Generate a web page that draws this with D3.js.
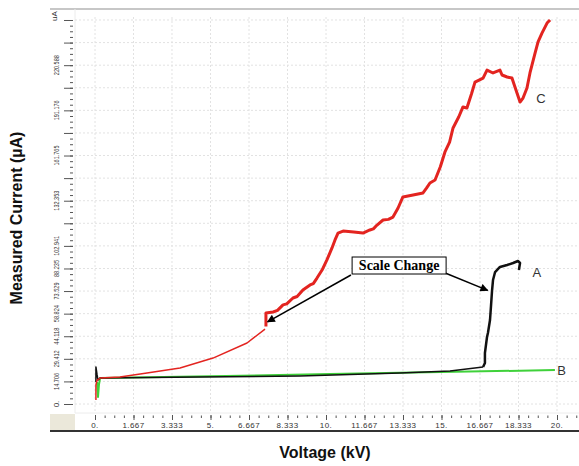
<!DOCTYPE html>
<html>
<head>
<meta charset="utf-8">
<script src="https://cdn.jsdelivr.net/npm/d3@7"></script>
<style>
  body { margin: 0; background: #fff; }
  svg { display: block; }
</style>
</head>
<body>
<script>
const canvasSizeX = 579;
const canvasSizeY = 466;

// tick labels as printed by the instrument software
const voltageTicks = [0, 1.667, 3.333, 5, 6.667, 8.333, 10, 11.667, 13.333, 15, 16.667, 18.333, 20];
const voltageLabels = ["0.", "1.667", "3.333", "5.", "6.667", "8.333", "10.", "11.667", "13.333", "15.", "16.667", "18.333", "20."];
const currentTicks = [0, 14.706, 29.412, 44.118, 58.824, 73.529, 88.235, 102.941, 132.353, 161.765, 191.176, 220.588];
const currentLabels = ["0.", "14.706", "29.412", "44.118", "58.824", "73.529", "88.235", "102.941", "132.353", "161.765", "191.176", "220.588"];
const currentStep = 14.706;
const currentMax = 250;

// [kV, uA]
// C before the scale change (thin) and after it (thick)
const seriesCLow = [
    [0.04, 2.6], [0.04, 12.4], [0.09, 15.6], [0.22, 16.9], [1.08, 17.6], [2.25, 20.2],
    [3.68, 23.4], [5.11, 29.9], [6.58, 39.7], [7.36, 48.8]
];
const seriesCHigh = [
    [7.40, 50.5], [7.40, 59.2], [7.71, 59.9], [7.90, 61.0], [8.14, 64.5], [8.30, 65.2], [8.57, 69.0],
    [8.75, 70.0], [9.00, 74.2], [9.31, 77.5], [9.45, 78.4], [9.61, 82.0], [9.83, 87.2], [10.04, 93.8],
    [10.26, 101.6], [10.39, 106.8], [10.52, 111.3], [10.74, 112.6], [11.20, 112.0], [11.60, 111.3],
    [11.90, 113.3], [12.05, 114.0], [12.21, 116.5], [12.47, 119.8], [12.70, 120.2], [12.90, 121.7],
    [13.12, 127.6], [13.33, 134.8], [13.77, 136.1], [14.20, 137.4], [14.35, 140.5], [14.50, 143.9],
    [14.72, 145.8], [14.95, 154.5], [15.15, 164.1], [15.35, 170.5], [15.50, 179.7], [15.75, 187.0],
    [15.93, 193.4], [16.10, 192.7], [16.30, 202.0], [16.45, 209.6], [16.80, 212.2], [16.97, 217.4],
    [17.23, 215.5], [17.53, 217.4], [17.62, 214.2], [17.84, 212.9], [18.05, 212.2], [18.18, 206.4],
    [18.40, 196.6], [18.53, 199.2], [18.70, 205.7], [18.83, 215.5], [19.05, 228.5], [19.18, 235.7],
    [19.35, 241.5], [19.57, 248.0], [19.70, 250.0]
];
// A before and after the scale change
const seriesALow = [
    [0.04, 14.3], [0.04, 24.1], [0.09, 18.9], [0.13, 15.6], [0.22, 16.9], [4.55, 17.6],
    [8.87, 18.2], [13.20, 20.2], [15.37, 21.5], [16.80, 24.1]
];
const seriesAHigh = [
    [16.80, 24.1], [16.88, 26.7], [16.88, 33.2], [16.97, 43.6], [17.01, 46.2], [17.10, 54.7],
    [17.14, 63.2], [17.19, 74.2], [17.23, 80.7], [17.32, 85.9], [17.53, 89.2], [17.84, 90.5],
    [18.10, 91.8], [18.31, 93.1], [18.40, 91.8], [18.35, 87.2]
];
const seriesB = [
    [0.09, 14.3], [0.13, 4.6], [0.17, 12.4], [0.22, 16.9], [5.0, 18.1], [10.17, 19.5],
    [15.0, 20.8], [19.91, 22.1]
];

// curve labels and the annotation, in data units
const curveLabels = [
    { text: "A", v: 19.13, i: 85.9 },
    { text: "B", v: 20.2, i: 22.1 },
    { text: "C", v: 19.3, i: 199 }
];
const noteText = "Scale Change";
const noteBox = { v: 11.13, i: 95.7 };
const noteArrows = [
    { from: [11.08, 84.0], to: [7.47, 53.5] },
    { from: [15.16, 85.3], to: [17.0, 74.0] }
];

let canvas = d3.select("body")
    .append("svg")
    .attr("width", canvasSizeX)
    .attr("height", canvasSizeY);

const x = d3.scaleLinear().domain([0, 20]).range([95, 557]);
const y = d3.scaleLinear().domain([0, currentMax]).range([404, 20]);

const plotLeft = 75;
const plotRight = canvasSizeX;
const plotTop = 9;
const plotBottom = 413;
const smallFont = "Liberation Sans, Arial, sans-serif";

const main = () => {
    drawFrame();
    drawGrid();
    drawAxes();

    drawSeries(seriesB, "#3fd13a", 2);
    drawSeries(seriesALow, "#111", 1.5);
    drawSeries(seriesCLow, "#e32420", 1.5);
    drawSeries(seriesAHigh, "#111", 2.5);
    drawSeries(seriesCHigh, "#e32420", 3);

    curveLabels.forEach(l => {
        canvas.append("text")
            .attr("x", x(l.v))
            .attr("y", y(l.i))
            .attr("dy", "0.35em")
            .attr("text-anchor", "middle")
            .attr("font-family", "Liberation Sans, Arial, sans-serif")
            .attr("font-size", 13)
            .attr("fill", "#333")
            .text(l.text);
    });

    drawNote();

    // axis titles
    canvas.append("text")
        .attr("transform", "translate(22," + 218 + ") rotate(-90)")
        .attr("text-anchor", "middle")
        .attr("font-family", "Liberation Sans, Arial, sans-serif")
        .attr("font-weight", "bold")
        .attr("font-size", 16)
        .attr("fill", "#111")
        .text("Measured Current (\u00b5A)");

    canvas.append("text")
        .attr("x", 325)
        .attr("y", 458)
        .attr("text-anchor", "middle")
        .attr("font-family", "Liberation Sans, Arial, sans-serif")
        .attr("font-weight", "bold")
        .attr("font-size", 16)
        .attr("fill", "#111")
        .text("Voltage (kV)");
}

const drawFrame = () => {
    // beige corner under the y axis
    canvas.append("rect")
        .attr("x", 50).attr("y", plotBottom + 1)
        .attr("width", plotLeft - 50).attr("height", 430 - plotBottom - 1)
        .attr("fill", "#ebe8da");
    canvas.append("line")
        .attr("x1", 50).attr("x2", canvasSizeX)
        .attr("y1", plotTop).attr("y2", plotTop)
        .attr("stroke", "#b4b4b4").attr("stroke-width", 1.5);
    canvas.append("line")
        .attr("x1", 50).attr("x2", canvasSizeX)
        .attr("y1", 431).attr("y2", 431)
        .attr("stroke", "#333").attr("stroke-width", 2);
    canvas.append("line")
        .attr("x1", plotLeft).attr("x2", plotLeft)
        .attr("y1", plotTop).attr("y2", plotBottom)
        .attr("stroke", "#ececec");
    canvas.append("line")
        .attr("x1", plotLeft).attr("x2", plotRight)
        .attr("y1", plotBottom).attr("y2", plotBottom)
        .attr("stroke", "#ececec");
}

const drawGrid = () => {
    let g = canvas.append("g")
        .attr("stroke", "#e2e2e2")
        .attr("stroke-dasharray", "2,2");
    voltageTicks.forEach(v => {
        g.append("line")
            .attr("x1", x(v)).attr("x2", x(v))
            .attr("y1", plotTop + 8).attr("y2", plotBottom);
    });
    d3.range(0, currentMax + 1, currentStep).forEach(c => {
        g.append("line")
            .attr("x1", plotLeft).attr("x2", plotRight)
            .attr("y1", y(c)).attr("y2", y(c));
    });
}

const drawAxes = () => {
    // y axis: long ticks per step, short ticks in between
    let yAxis = canvas.append("g")
        .attr("transform", "translate(73,0)")
        .call(d3.axisLeft(y)
            .tickValues(d3.range(0, currentMax + 1, currentStep))
            .tickSize(9)
            .tickFormat(""));
    let yMinor = canvas.append("g")
        .attr("transform", "translate(73,0)")
        .call(d3.axisLeft(y)
            .tickValues(d3.range(0, currentMax, currentStep / 4))
            .tickSize(3)
            .tickFormat(""));
    [yAxis, yMinor].forEach(a => {
        a.select(".domain").remove();
        a.selectAll("line").attr("stroke", "#555");
    });

    // rotated labels are squeezed so they fit between the ticks
    currentTicks.forEach((c, k) => {
        let label = canvas.append("text")
            .attr("transform", "translate(59," + y(c) + ") rotate(-90)")
            .attr("text-anchor", "middle")
            .attr("font-family", smallFont)
            .attr("font-size", 8)
            .attr("fill", "#333")
            .text(currentLabels[k]);
        if (currentLabels[k].length > 3) {
            label.attr("textLength", currentLabels[k].length * 2.85)
                .attr("lengthAdjust", "spacingAndGlyphs");
        }
    });
    canvas.append("text")
        .attr("transform", "translate(57," + 16 + ") rotate(-90)")
        .attr("text-anchor", "middle")
        .attr("font-family", smallFont)
        .attr("font-size", 8)
        .attr("fill", "#333")
        .text("uA");

    // x axis
    let xAxis = canvas.append("g")
        .attr("transform", "translate(0,415)")
        .call(d3.axisBottom(x)
            .tickValues(voltageTicks)
            .tickSize(5)
            .tickFormat(""));
    let xMinor = canvas.append("g")
        .attr("transform", "translate(0,415.5)")
        .call(d3.axisBottom(x)
            .tickValues(d3.range(0, 20.9, 1.6667 / 4))
            .tickSize(2.5)
            .tickFormat(""));
    [xAxis, xMinor].forEach(a => {
        a.select(".domain").remove();
        a.selectAll("line").attr("stroke", "#555");
    });

    voltageTicks.forEach((v, k) => {
        canvas.append("text")
            .attr("x", x(v))
            .attr("y", 428)
            .attr("text-anchor", "middle")
            .attr("font-family", "Liberation Sans, Arial, sans-serif")
            .attr("font-size", 8)
            .attr("letter-spacing", 0.4)
            .attr("fill", "#333")
            .text(voltageLabels[k]);
    });
}

const drawSeries = (points, color, width) => {
    let line = d3.line()
        .x(d => x(d[0]))
        .y(d => y(d[1]));
    canvas.append("path")
        .datum(points)
        .attr("d", line)
        .attr("fill", "none")
        .attr("stroke", color)
        .attr("stroke-width", width)
        .attr("stroke-linejoin", "round");
}

const drawNote = () => {
    canvas.append("defs").append("marker")
        .attr("id", "arrow")
        .attr("viewBox", "0 0 10 10")
        .attr("refX", 9).attr("refY", 5)
        .attr("markerWidth", 10).attr("markerHeight", 8)
        .attr("markerUnits", "userSpaceOnUse")
        .attr("orient", "auto")
        .append("path")
        .attr("d", "M0,0 L10,5 L0,10 z")
        .attr("fill", "#000");

    noteArrows.forEach(a => {
        canvas.append("line")
            .attr("x1", x(a.from[0])).attr("y1", y(a.from[1]))
            .attr("x2", x(a.to[0])).attr("y2", y(a.to[1]))
            .attr("stroke", "#000")
            .attr("stroke-width", 1.5)
            .attr("marker-end", "url(#arrow)");
    });

    let bx = x(noteBox.v);
    let by = y(noteBox.i);
    canvas.append("rect")
        .attr("x", bx).attr("y", by)
        .attr("width", 94).attr("height", 17)
        .attr("fill", "#fff")
        .attr("stroke", "#000");
    canvas.append("text")
        .attr("x", bx + 47)
        .attr("y", by + 13)
        .attr("text-anchor", "middle")
        .attr("font-family", "Liberation Serif, Times New Roman, serif")
        .attr("font-weight", "bold")
        .attr("font-size", 14)
        .attr("fill", "#000")
        .text(noteText);
}


window.addEventListener("load", main);
</script>
</body>
</html>
